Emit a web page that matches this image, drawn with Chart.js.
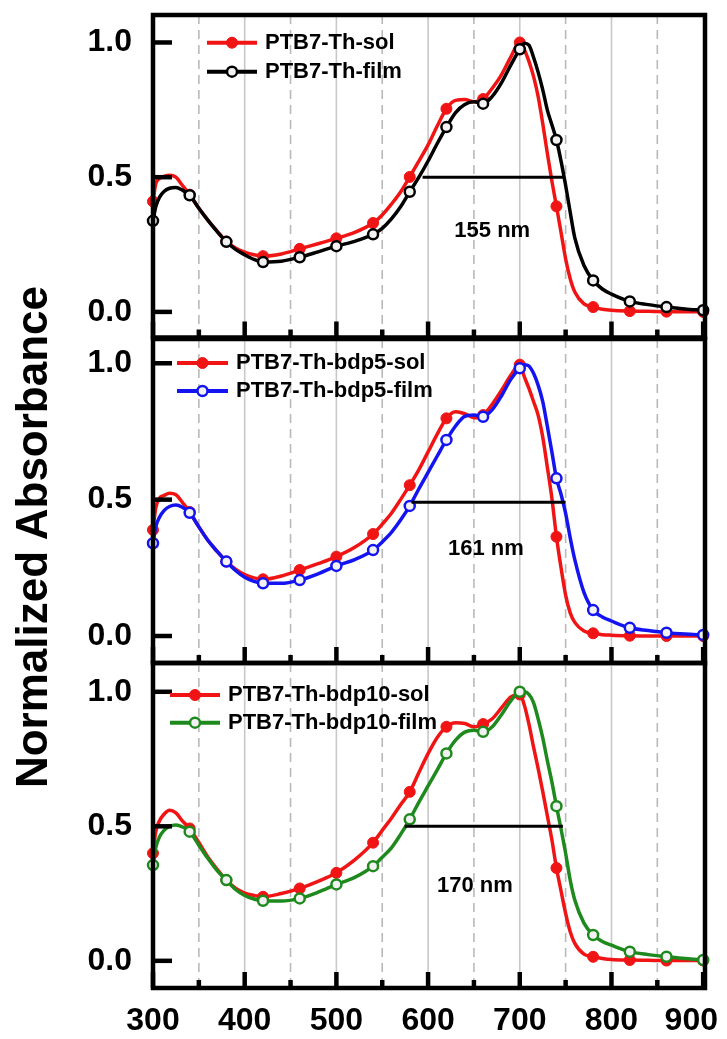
<!DOCTYPE html>
<html>
<head>
<meta charset="utf-8">
<script src="https://cdn.jsdelivr.net/npm/chart.js@4.4.1/dist/chart.umd.min.js"></script>
<style>
html,body{margin:0;padding:0;background:#fff;}
body{width:727px;height:1039px;position:relative;overflow:hidden;}
canvas{position:absolute;left:0;}
#ytitle{position:absolute;left:-228px;top:512px;width:520px;height:50px;line-height:50px;text-align:center;
  font:bold 44px "Liberation Sans", Arial, Helvetica, sans-serif;color:#000;white-space:nowrap;
  transform:rotate(-90deg);transform-origin:50% 50%;}
</style>
</head>
<body>
<canvas id="c1" width="727" height="345" style="top:0px"></canvas>
<canvas id="c2" width="727" height="345" style="top:330px"></canvas>
<canvas id="c3" width="727" height="389" style="top:650px"></canvas>
<div id="ytitle">Normalized Absorbance</div>
<script>
// ---------- data ----------
const wavelength = [300,303,307,312,318,325,332,
  340,350,360,370,380,390,400,410,420,
  440,460,480,500,520,540,
  550,560,570,580,590,600,610,620,630,640,650,660,670,680,690,700,
  705,710,715,720,725,730,735,740,745,750,755,760,
  770,780,790,800,
  820,840,860,880,900];
const markerWavelengths = [300,340,380,420,460,500,540,580,620,660,700,740,780,820,860,900];
const xTickValues = [300,400,500,600,700,800,900];
const xMajorGrid = [400,500,600,700,800];
const xMinorGrid = [350,450,550,650,750,850];
const yTickValues = [0,0.5,1.0];

const sol1 = [0.41,0.475,0.495,0.503,0.507,0.50,0.47,
  0.435,0.385,0.34,0.30,0.261,0.237,0.222,0.212,0.207,
  0.215,0.234,0.253,0.273,0.295,0.33,
  0.36,0.40,0.445,0.501,0.56,0.62,0.69,0.754,0.785,0.788,0.78,0.79,0.83,0.88,0.945,1.0,
  0.973,0.93,0.874,0.80,0.70,0.59,0.486,0.392,0.295,0.197,0.123,0.074,
  0.03,0.018,0.01,0.006,
  0.003,0.002,0.001,0.001,0.0];
const film1 = [0.338,0.39,0.425,0.447,0.459,0.462,0.452,
  0.433,0.385,0.34,0.298,0.26,0.232,0.212,0.195,0.185,
  0.188,0.203,0.223,0.244,0.262,0.288,
  0.31,0.345,0.39,0.446,0.50,0.56,0.625,0.686,0.74,0.77,0.78,0.773,0.80,0.85,0.915,0.975,
  0.997,0.99,0.945,0.89,0.825,0.75,0.695,0.638,0.56,0.47,0.37,0.275,
  0.172,0.117,0.085,0.066,
  0.039,0.027,0.018,0.011,0.006];
const sol2 = [0.389,0.47,0.505,0.515,0.523,0.518,0.49,
  0.455,0.40,0.35,0.31,0.273,0.245,0.225,0.213,0.208,
  0.22,0.242,0.265,0.291,0.325,0.374,
  0.41,0.45,0.50,0.553,0.61,0.675,0.74,0.798,0.822,0.815,0.80,0.81,0.85,0.90,0.955,0.995,
  0.95,0.908,0.86,0.81,0.73,0.62,0.505,0.364,0.25,0.15,0.085,0.05,
  0.018,0.01,0.005,0.003,
  0.001,0.0,0.0,0.0,0.0];
const film2 = [0.34,0.40,0.435,0.46,0.475,0.48,0.472,
  0.452,0.40,0.35,0.31,0.273,0.24,0.215,0.2,0.193,
  0.193,0.205,0.228,0.257,0.28,0.315,
  0.345,0.38,0.425,0.477,0.54,0.60,0.66,0.719,0.77,0.805,0.81,0.804,0.83,0.88,0.94,0.982,
  0.995,0.99,0.963,0.92,0.86,0.77,0.675,0.578,0.52,0.45,0.36,0.28,
  0.16,0.095,0.07,0.055,
  0.03,0.02,0.012,0.007,0.004];
const sol3 = [0.40,0.48,0.52,0.545,0.56,0.55,0.52,
  0.492,0.44,0.385,0.34,0.30,0.27,0.252,0.243,0.238,
  0.25,0.269,0.295,0.327,0.375,0.439,
  0.485,0.53,0.58,0.628,0.70,0.77,0.83,0.87,0.885,0.882,0.87,0.88,0.90,0.94,0.98,0.99,
  0.95,0.88,0.795,0.715,0.63,0.54,0.45,0.345,0.26,0.176,0.108,0.065,
  0.025,0.015,0.009,0.005,
  0.003,0.002,0.001,0.001,0.001];
const film3 = [0.356,0.42,0.46,0.485,0.50,0.505,0.498,
  0.48,0.43,0.38,0.335,0.30,0.265,0.243,0.23,0.223,
  0.222,0.232,0.255,0.284,0.31,0.352,
  0.385,0.42,0.47,0.526,0.59,0.65,0.71,0.771,0.82,0.85,0.857,0.851,0.87,0.915,0.965,1.0,
  1.0,0.99,0.96,0.90,0.83,0.745,0.665,0.575,0.49,0.40,0.30,0.226,
  0.14,0.096,0.072,0.058,
  0.034,0.023,0.015,0.009,0.003];

const names1 = ['PTB7-Th-sol','PTB7-Th-film'];
const names2 = ['PTB7-Th-bdp5-sol','PTB7-Th-bdp5-film'];
const names3 = ['PTB7-Th-bdp10-sol','PTB7-Th-bdp10-film'];
const fwhm1 = [594,749], fwhm2 = [582,750], fwhm3 = [574.5,747];
const fwhmLevels = [0.5,0.49,0.5];
const fwhmTexts = ['155 nm','161 nm','170 nm'];
const fwhmTextX = [670,663,651];
const fwhmTextY = [0.30,0.32,0.28];

// ---------- styling ----------
const FONT = '"Liberation Sans", Arial, Helvetica, sans-serif';
const RED = '#f01414';

function toPoints(vals){ return wavelength.map((w,i)=>({x:w,y:vals[i]})); }
function markerRadius(r){ return ctx => (ctx.raw && markerWavelengths.includes(ctx.raw.x)) ? r : 0; }

function line(ctx,x1,y1,x2,y2){ ctx.beginPath(); ctx.moveTo(x1,y1); ctx.lineTo(x2,y2); ctx.stroke(); }

const panelPlugin = {
  id:'panelDeco',
  beforeDatasetsDraw(chart){
    const ctx = chart.ctx, a = chart.chartArea, x = chart.scales.x;
    ctx.save();
    ctx.lineWidth = 1.6;
    ctx.strokeStyle = '#c8c8c8';
    ctx.setLineDash([]);
    xMajorGrid.forEach(v=>{ const p = x.getPixelForValue(v); line(ctx,p,a.top,p,a.bottom); });
    ctx.strokeStyle = '#b9b9b9';
    ctx.setLineDash([9,6]);
    xMinorGrid.forEach(v=>{ const p = x.getPixelForValue(v); line(ctx,p,a.top,p,a.bottom); });
    ctx.restore();
  },
  afterDatasetsDraw(chart, args, o){
    const ctx = chart.ctx, a = chart.chartArea, x = chart.scales.x, y = chart.scales.y;
    ctx.save();
    ctx.setLineDash([]);
    ctx.strokeStyle = '#000';
    ctx.lineWidth = 4.5;
    xTickValues.forEach(v=>{ const p = x.getPixelForValue(v); line(ctx,p,a.bottom,p,a.bottom-16); });
    xMinorGrid.forEach(v=>{ const p = x.getPixelForValue(v); line(ctx,p,a.bottom,p,a.bottom-8); });
    yTickValues.forEach(v=>{ const p = y.getPixelForValue(v); line(ctx,a.left,p,a.left+19,p); });
    ctx.strokeRect(a.left,a.top,a.right-a.left,a.bottom-a.top);

    // x tick labels (bottom panel only), kept inside the page
    if (o.xLabels) {
      ctx.font = 'bold 32px ' + FONT;
      ctx.fillStyle = '#000';
      ctx.textAlign = 'center';
      ctx.textBaseline = 'top';
      x.ticks.forEach(t=>{
        const txt = String(t.value);
        const hw = ctx.measureText(txt).width/2;
        let p = x.getPixelForValue(t.value);
        p = Math.min(p, chart.width - 9 - hw);
        ctx.fillText(txt, p, a.bottom + 17);
      });
    }

    // legend
    const ds = chart.data.datasets;
    ctx.font = 'bold 22px ' + FONT;
    ctx.textBaseline = 'middle';
    for (let i=0;i<2;i++){
      const d = ds[i];
      const yy = a.top + o.dy0 + i*o.dy;
      const x0 = a.left + o.dx0;
      ctx.strokeStyle = d.borderColor; ctx.lineWidth = 4;
      line(ctx,x0,yy,x0+o.len,yy);
      ctx.beginPath(); ctx.arc(x0+o.len/2,yy,i===0?5.5:5,0,Math.PI*2);
      ctx.fillStyle = d.pointBackgroundColor; ctx.fill();
      ctx.lineWidth = d.pointBorderWidth; ctx.strokeStyle = d.pointBorderColor; ctx.stroke();
      ctx.fillStyle = '#000'; ctx.textAlign = 'left';
      ctx.fillText(d.label, x0+o.len+8, yy);
    }
    // FWHM note
    ctx.textAlign = 'center';
    ctx.fillStyle = '#000';
    ctx.fillText(o.note, x.getPixelForValue(o.noteX), y.getPixelForValue(o.noteY));
    ctx.restore();
  }
};

function buildChart(id, p){
  return new Chart(document.getElementById(id), {
    type:'line',
    data:{datasets:[
      {label:p.names[0], data:toPoints(p.sol), borderColor:RED, backgroundColor:RED,
       pointBackgroundColor:RED, pointBorderColor:RED, pointBorderWidth:1, pointRadius:markerRadius(5.5),
       borderWidth:3.5, cubicInterpolationMode:'monotone', order:2, clip:8, fill:false},
      {label:p.names[1], data:toPoints(p.film), borderColor:p.filmColor, backgroundColor:p.filmColor,
       pointBackgroundColor:'#f2f2f2', pointBorderColor:p.filmColor, pointBorderWidth:2.5, pointRadius:markerRadius(5),
       borderWidth:3.5, cubicInterpolationMode:'monotone', order:1, clip:8, fill:false},
      {label:'FWHM', data:p.fwhm.map(v=>({x:v,y:p.level})), borderColor:'#000', borderWidth:3,
       pointRadius:0, order:0, fill:false}
    ]},
    options:{
      responsive:false, animation:false, devicePixelRatio:1,
      layout:{padding:{top:p.padTop,bottom:p.padBottom,left:0,right:22}},
      plugins:{legend:{display:false}, tooltip:{enabled:false},
        panelDeco:{dx0:p.leg[0], dy0:p.leg[1], dy:p.leg[2], len:p.leg[3], note:p.note, noteX:p.noteX, noteY:p.noteY, xLabels:p.showX}},
      scales:{
        x:{type:'linear', min:300, max:902, display:p.showX,
           grid:{display:false, drawTicks:false}, border:{display:false},
           afterBuildTicks:s=>{ s.ticks = xTickValues.map(v=>({value:v})); },
           afterFit:s=>{ if (p.showX) s.height = 51; s.paddingLeft = 0; s.paddingRight = 0; s.paddingTop = 0; s.paddingBottom = 0; },
           ticks:{display:false}},
        y:{type:'linear', min:p.yMin, max:p.yMax,
           grid:{display:false, drawTicks:false}, border:{display:false},
           afterBuildTicks:s=>{ s.ticks = yTickValues.map(v=>({value:v})); },
           afterFit:s=>{ s.width = 153; s.paddingTop = 0; s.paddingBottom = 0; s.paddingLeft = 0; s.paddingRight = 0; },
           ticks:{font:{family:FONT,size:32,weight:'bold'}, color:'#000', padding:21, callback:v=>Number(v).toFixed(1)}}
      }
    },
    plugins:[panelPlugin]
  });
}

buildChart('c1',{names:names1, sol:sol1, film:film1, filmColor:'#000000', fwhm:fwhm1, level:fwhmLevels[0],
  note:fwhmTexts[0], noteX:fwhmTextX[0], noteY:fwhmTextY[0], yMin:-0.095, yMax:1.102,
  padTop:15, padBottom:6, showX:false, leg:[54,27.7,29,50]});
buildChart('c2',{names:names2, sol:sol2, film:film2, filmColor:'#1414f0', fwhm:fwhm2, level:fwhmLevels[1],
  note:fwhmTexts[1], noteX:fwhmTextX[1], noteY:fwhmTextY[1], yMin:-0.099, yMax:1.089,
  padTop:9, padBottom:12, showX:false, leg:[24,24,28,51]});
buildChart('c3',{names:names3, sol:sol3, film:film3, filmColor:'#1e8a1e', fwhm:fwhm3, level:fwhmLevels[2],
  note:fwhmTexts[2], noteX:fwhmTextX[2], noteY:fwhmTextY[2], yMin:-0.101, yMax:1.107,
  padTop:13, padBottom:0, showX:true, leg:[17,32,27.7,50]});
</script>
</body>
</html>
